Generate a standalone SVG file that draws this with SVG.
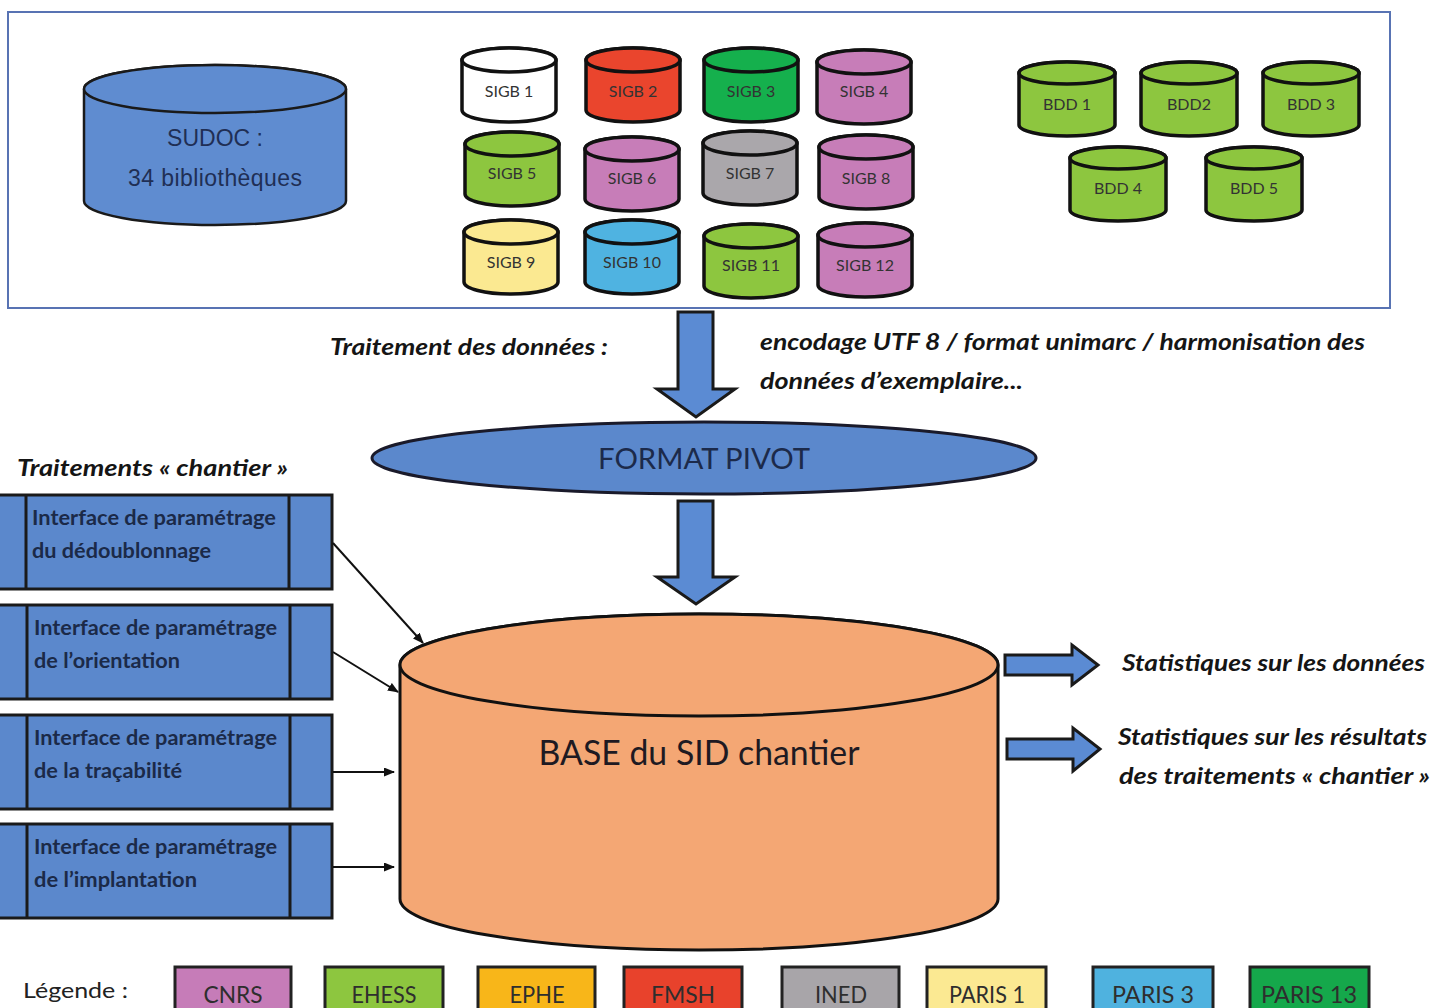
<svg xmlns="http://www.w3.org/2000/svg" xmlns:xlink="http://www.w3.org/1999/xlink" width="1446" height="1008" viewBox="0 0 1446 1008">
<style>
.frame{fill:none;stroke:#5873b3;stroke-width:2}
.cs{stroke:#111;stroke-width:3.5}
.lbl{font-family:Lato,'Noto Sans',sans-serif;font-size:16px;fill:#333;text-anchor:middle}
.it{font-family:Lato,'Noto Sans',sans-serif;font-weight:bold;font-style:italic;font-size:22px;fill:#151515}
.ifc{font-family:Lato,'Noto Sans',sans-serif;font-weight:bold;font-size:20px;fill:#1b2a48}
.box{fill:#5b88cc;stroke:#1a1a1a;stroke-width:3}
.div{stroke:#1a1a1a;stroke-width:3}
.blk{fill:#5b8bd3;stroke:#1a1a1a;stroke-width:3;stroke-linejoin:miter}
.con{stroke:#111;stroke-width:2;fill:none;marker-end:url(#ah)}
.leg{font-family:Lato,'Noto Sans',sans-serif;font-size:23px;fill:#2e2e2e;text-anchor:middle}
.legbox{stroke:#222;stroke-width:3}
</style>
<defs>
<marker id="ah" markerUnits="userSpaceOnUse" markerWidth="11" markerHeight="9" refX="10" refY="4.5" orient="auto"><path d="M0,0 L11,4.5 L0,9 z" fill="#111"/></marker>
<g id="cylS" class="cs"><path d="M-47,0 V50 A47,12 0 0 0 47,50 V0 A47,12 0 0 0 -47,0 Z"/><ellipse cx="0" cy="0" rx="47" ry="12"/></g>
<g id="cylB" class="cs"><path d="M-48,0 V52 A48,11 0 0 0 48,52 V0 A48,11 0 0 0 -48,0 Z"/><ellipse cx="0" cy="0" rx="48" ry="11"/></g>
</defs>
<rect width="1446" height="1008" fill="#ffffff"/>
<rect id="sources-frame" class="frame" x="8" y="12" width="1382" height="296"/>

<g id="sudoc">
<path d="M84,89 V201 A131,24 0 0 0 346,201 V89 A131,24 0 0 0 84,89 Z" fill="#5f8cd0" stroke="#1a1a1a" stroke-width="2.5"/>
<ellipse cx="215" cy="89" rx="131" ry="24" fill="#5f8cd0" stroke="#1a1a1a" stroke-width="2.5"/>
<text x="215" y="146" font-family="'Liberation Sans',Arial,sans-serif" font-size="23" fill="#1f2f55" text-anchor="middle">SUDOC :</text>
<text x="215" y="186" font-family="'Liberation Sans',Arial,sans-serif" font-size="23" fill="#1f2f55" text-anchor="middle" textLength="174" lengthAdjust="spacing">34 bibliothèques</text>
</g>

<g id="sigb1" transform="translate(509,60)"><use xlink:href="#cylS" fill="#ffffff"/><text class="lbl" y="37">SIGB 1</text></g>
<g id="sigb2" transform="translate(633,60)"><use xlink:href="#cylS" fill="#ea452d"/><text class="lbl" y="37">SIGB 2</text></g>
<g id="sigb3" transform="translate(751,60)"><use xlink:href="#cylS" fill="#15b04d"/><text class="lbl" y="37">SIGB 3</text></g>
<g id="sigb4" transform="translate(864,62)"><use xlink:href="#cylS" fill="#c77db8"/><text class="lbl" y="35">SIGB 4</text></g>
<g id="sigb5" transform="translate(512,144)"><use xlink:href="#cylS" fill="#8dc63f"/><text class="lbl" y="35">SIGB 5</text></g>
<g id="sigb6" transform="translate(632,149)"><use xlink:href="#cylS" fill="#c77db8"/><text class="lbl" y="35">SIGB 6</text></g>
<g id="sigb7" transform="translate(750,143)"><use xlink:href="#cylS" fill="#aaa7ab"/><text class="lbl" y="36">SIGB 7</text></g>
<g id="sigb8" transform="translate(866,147)"><use xlink:href="#cylS" fill="#c77db8"/><text class="lbl" y="37">SIGB 8</text></g>
<g id="sigb9" transform="translate(511,232)"><use xlink:href="#cylS" fill="#fbe991"/><text class="lbl" y="36">SIGB 9</text></g>
<g id="sigb10" transform="translate(632,232)"><use xlink:href="#cylS" fill="#4fb3e1"/><text class="lbl" y="36">SIGB 10</text></g>
<g id="sigb11" transform="translate(751,236)"><use xlink:href="#cylS" fill="#8dc63f"/><text class="lbl" y="35">SIGB 11</text></g>
<g id="sigb12" transform="translate(865,235)"><use xlink:href="#cylS" fill="#c77db8"/><text class="lbl" y="36">SIGB 12</text></g>

<g id="bdd1" transform="translate(1067,73)"><use xlink:href="#cylB" fill="#8dc63f"/><text class="lbl" y="37">BDD 1</text></g>
<g id="bdd2" transform="translate(1189,73)"><use xlink:href="#cylB" fill="#8dc63f"/><text class="lbl" y="37">BDD2</text></g>
<g id="bdd3" transform="translate(1311,73)"><use xlink:href="#cylB" fill="#8dc63f"/><text class="lbl" y="37">BDD 3</text></g>
<g id="bdd4" transform="translate(1118,158)"><use xlink:href="#cylB" fill="#8dc63f"/><text class="lbl" y="36">BDD 4</text></g>
<g id="bdd5" transform="translate(1254,158)"><use xlink:href="#cylB" fill="#8dc63f"/><text class="lbl" y="36">BDD 5</text></g>

<g id="labels">
<text class="it" x="330" y="355" textLength="278" lengthAdjust="spacingAndGlyphs">Traitement des données :</text>
<text class="it" x="760" y="350" textLength="605" lengthAdjust="spacingAndGlyphs">encodage UTF 8 / format unimarc / harmonisation des</text>
<text class="it" x="760" y="389" textLength="263" lengthAdjust="spacingAndGlyphs">données d’exemplaire...</text>
<text class="it" x="17" y="476" textLength="271" lengthAdjust="spacingAndGlyphs">Traitements « chantier »</text>
<text class="it" x="1122" y="671" textLength="303" lengthAdjust="spacingAndGlyphs">Statistiques sur les données</text>
<text class="it" x="1118" y="745" textLength="309" lengthAdjust="spacingAndGlyphs">Statistiques sur les résultats</text>
<text class="it" x="1119" y="784" textLength="311" lengthAdjust="spacingAndGlyphs">des traitements « chantier »</text>
</g>

<g id="format-pivot">
<ellipse cx="704" cy="458" rx="332" ry="36" fill="#5b88cc" stroke="#1a1a2a" stroke-width="3"/>
<text x="704" y="469" font-family="Lato,'Noto Sans',sans-serif" font-size="29" fill="#1c2a4a" text-anchor="middle" textLength="212" lengthAdjust="spacingAndGlyphs">FORMAT PIVOT</text>
</g>

<g id="base-sid">
<path d="M400,665 V899 A299,51 0 0 0 998,899 V665 A299,51 0 0 0 400,665 Z" fill="#f4a774" stroke="#111" stroke-width="3"/>
<ellipse cx="699" cy="665" rx="299" ry="51" fill="#f4a774" stroke="#111" stroke-width="3"/>
<text x="699" y="765" font-family="Lato,'Noto Sans',sans-serif" font-size="35" fill="#1e1a22" text-anchor="middle" textLength="321" lengthAdjust="spacingAndGlyphs">BASE du SID chantier</text>
</g>

<g id="if-dedoublonnage">
<rect class="box" x="-5" y="495" width="337" height="94"/>
<line class="div" x1="26" y1="495" x2="26" y2="589"/><line class="div" x1="289" y1="495" x2="289" y2="589"/>
<text class="ifc" x="32" y="525" textLength="244" lengthAdjust="spacingAndGlyphs">Interface de paramétrage</text>
<text class="ifc" x="32" y="558" textLength="179" lengthAdjust="spacingAndGlyphs">du dédoublonnage</text>
</g>
<g id="if-orientation">
<rect class="box" x="-5" y="605" width="337" height="94"/>
<line class="div" x1="27" y1="605" x2="27" y2="699"/><line class="div" x1="290" y1="605" x2="290" y2="699"/>
<text class="ifc" x="34" y="635" textLength="243" lengthAdjust="spacingAndGlyphs">Interface de paramétrage</text>
<text class="ifc" x="34" y="668" textLength="146" lengthAdjust="spacingAndGlyphs">de l’orientation</text>
</g>
<g id="if-tracabilite">
<rect class="box" x="-5" y="715" width="337" height="94"/>
<line class="div" x1="27" y1="715" x2="27" y2="809"/><line class="div" x1="290" y1="715" x2="290" y2="809"/>
<text class="ifc" x="34" y="745" textLength="243" lengthAdjust="spacingAndGlyphs">Interface de paramétrage</text>
<text class="ifc" x="34" y="778" textLength="148" lengthAdjust="spacingAndGlyphs">de la traçabilité</text>
</g>
<g id="if-implantation">
<rect class="box" x="-5" y="824" width="337" height="94"/>
<line class="div" x1="27" y1="824" x2="27" y2="918"/><line class="div" x1="290" y1="824" x2="290" y2="918"/>
<text class="ifc" x="34" y="854" textLength="243" lengthAdjust="spacingAndGlyphs">Interface de paramétrage</text>
<text class="ifc" x="34" y="887" textLength="163" lengthAdjust="spacingAndGlyphs">de l’implantation</text>
</g>

<g id="connectors">
<polygon class="blk" points="678,312 713,312 713,389 735,389 696,417 657,389 678,389"/>
<polygon class="blk" points="678,501 713,501 713,577 735,577 696,604 657,577 678,577"/>
<polygon class="blk" points="1005,655 1072,655 1072,645 1098,665 1072,685 1072,675 1005,675"/>
<polygon class="blk" points="1007,739 1073,739 1073,728 1100,749 1073,771 1073,759 1007,759"/>
<line class="con" x1="333" y1="543" x2="423" y2="643"/>
<line class="con" x1="333" y1="652" x2="398" y2="692"/>
<line class="con" x1="333" y1="772" x2="394" y2="772"/>
<line class="con" x1="333" y1="867" x2="394" y2="867"/>
</g>

<g id="legend">
<text x="23" y="998" font-family="Lato,'Noto Sans',sans-serif" font-size="22" fill="#222" textLength="105" lengthAdjust="spacingAndGlyphs">Légende :</text>
<g id="leg-cnrs"><rect class="legbox" x="175" y="967" width="116" height="60" fill="#c67cb8"/><text class="leg" x="233" y="1003" textLength="59" lengthAdjust="spacingAndGlyphs">CNRS</text></g>
<g id="leg-ehess"><rect class="legbox" x="325" y="967" width="118" height="60" fill="#8dc63f"/><text class="leg" x="384" y="1003" textLength="65" lengthAdjust="spacingAndGlyphs">EHESS</text></g>
<g id="leg-ephe"><rect class="legbox" x="478" y="967" width="117" height="60" fill="#f8b619"/><text class="leg" x="537" y="1003" textLength="55" lengthAdjust="spacingAndGlyphs">EPHE</text></g>
<g id="leg-fmsh"><rect class="legbox" x="624" y="967" width="118" height="60" fill="#e8422c"/><text class="leg" x="683" y="1003" textLength="64" lengthAdjust="spacingAndGlyphs">FMSH</text></g>
<g id="leg-ined"><rect class="legbox" x="782" y="967" width="117" height="60" fill="#a8a5a9"/><text class="leg" x="841" y="1003" textLength="52" lengthAdjust="spacingAndGlyphs">INED</text></g>
<g id="leg-paris1"><rect class="legbox" x="927" y="967" width="119" height="60" fill="#fbe992"/><text class="leg" x="987" y="1003" textLength="76" lengthAdjust="spacingAndGlyphs">PARIS 1</text></g>
<g id="leg-paris3"><rect class="legbox" x="1093" y="967" width="120" height="60" fill="#4fb2df"/><text class="leg" x="1153" y="1003" textLength="82" lengthAdjust="spacingAndGlyphs">PARIS 3</text></g>
<g id="leg-paris13"><rect class="legbox" x="1250" y="967" width="119" height="60" fill="#15a84b"/><text class="leg" x="1309" y="1003" textLength="96" lengthAdjust="spacingAndGlyphs">PARIS 13</text></g>
</g>
</svg>
